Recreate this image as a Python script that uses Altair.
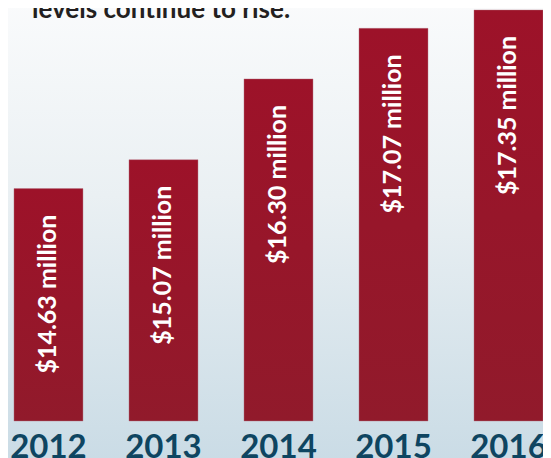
import altair as alt
import pandas as pd

years = ["2012", "2013", "2014", "2015", "2016"]
values = [14.63, 15.07, 16.30, 17.07, 17.35]
labels = ["$14.63 million", "$15.07 million", "$16.30 million", "$17.07 million", "$17.35 million"]
title_text = ["levels continue to rise:"]

Y_DOMAIN = [11.09, 17.38]

df = pd.DataFrame({"year": years, "value": values, "label": labels})

bg = alt.Chart(pd.DataFrame({"k": [0]})).mark_rect(
    color=alt.Gradient(
        gradient="linear",
        stops=[
            alt.GradientStop(color="#fafbfc", offset=0),
            alt.GradientStop(color="#eaf0f3", offset=0.42),
            alt.GradientStop(color="#c9dbe5", offset=1),
        ],
        x1=0, x2=0, y1=0, y2=1,
    )
).encode(x=alt.value(-10), x2=alt.value(560), y=alt.value(-10), y2=alt.value(460))

base = alt.Chart(df).encode(
    x=alt.X(
        "year:N",
        sort=years,
        scale=alt.Scale(paddingInner=0.4, paddingOuter=0.026, align=1),
        axis=alt.Axis(
            title=None, labelAngle=0, labelFont="Lato", labelFontSize=33,
            labelFontWeight="bold", labelColor="#0e4561", labelPadding=10,
            domain=False, ticks=False, grid=False, zindex=2,
        ),
    ),
    y=alt.Y("value:Q", scale=alt.Scale(domain=Y_DOMAIN, zero=False, nice=False), axis=None),
)

bars = base.mark_bar(
    color=alt.Gradient(
        gradient="linear",
        stops=[
            alt.GradientStop(color="#9d1229", offset=0),
            alt.GradientStop(color="#911a2b", offset=1),
        ],
        x1=0, x2=0, y1=0, y2=1,
    ),
    stroke="#b47684", strokeWidth=0.7, strokeOpacity=0.6,
).encode(y2=alt.datum(Y_DOMAIN[0]))

texts = base.mark_text(
    angle=270, align="right", baseline="middle", dx=-26,
    font="Lato", fontSize=25, fontWeight="bold", color="white",
).encode(text="label:N")

title = alt.Chart(pd.DataFrame({"t": title_text})).mark_text(
    align="left", baseline="alphabetic", font="Lato", fontSize=26,
    fontWeight="bold", color="#231f20",
).encode(x=alt.value(24), y=alt.value(10), text="t:N")

chart = alt.layer(bg, bars, texts, title).properties(
    width=535, height=413,
    autosize=alt.AutoSizeParams(type="none"),
    padding={"left": 0, "top": 0, "right": 0, "bottom": 37},
).configure_view(stroke=None)

chart.save("out.html", embed_options={"renderer": "svg", "actions": False})
